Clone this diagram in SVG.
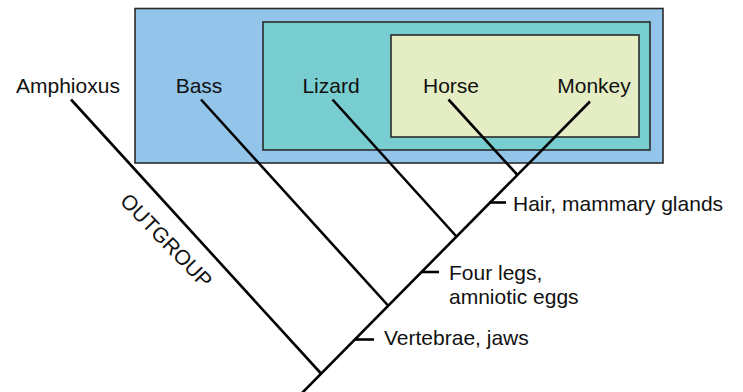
<svg xmlns="http://www.w3.org/2000/svg" width="743" height="392" viewBox="0 0 743 392">
  <style>
    .box { stroke: #2b2b2b; stroke-width: 1.6; }
    .lbl { font-family: "Liberation Sans", Arial, sans-serif; font-size: 21px; fill: #111; }
    .br { stroke: #000; stroke-width: 2.6; fill: none; stroke-linecap: butt; }
  </style>

  <!-- nested clade boxes -->
  <g id="clade-vertebrates">
    <rect class="box" x="135" y="8.5" width="528" height="154.5" fill="#93c4e9"/>
  </g>
  <g id="clade-tetrapods">
    <rect class="box" x="263" y="22" width="387" height="128" fill="#77cdcf"/>
  </g>
  <g id="clade-mammals">
    <rect class="box" x="391" y="35" width="248" height="102" fill="#e4edc4"/>
  </g>

  <!-- taxa -->
  <g id="taxon-amphioxus"><text class="lbl" x="16" y="93">Amphioxus</text></g>
  <g id="taxon-bass"><text class="lbl" x="199" y="93" text-anchor="middle">Bass</text></g>
  <g id="taxon-lizard"><text class="lbl" x="331" y="93" text-anchor="middle">Lizard</text></g>
  <g id="taxon-horse"><text class="lbl" x="451" y="93" text-anchor="middle">Horse</text></g>
  <g id="taxon-monkey"><text class="lbl" x="594" y="93" text-anchor="middle">Monkey</text></g>

  <!-- tree branches -->
  <g id="connectors">
    <line class="br" x1="590" y1="101.5" x2="302" y2="393"/>
    <line class="br" x1="71" y1="99.5" x2="321" y2="373.5"/>
    <line class="br" x1="201" y1="99.5" x2="388.5" y2="306"/>
    <line class="br" x1="332.5" y1="99.5" x2="456" y2="236"/>
    <line class="br" x1="448.5" y1="99.5" x2="517" y2="174.5"/>
    <!-- trait ticks -->
    <line class="br" x1="489" y1="202.5" x2="506" y2="202.5"/>
    <line class="br" x1="421" y1="272" x2="439" y2="272"/>
    <line class="br" x1="355" y1="339.5" x2="374" y2="339.5"/>
  </g>

  <!-- trait labels -->
  <g id="trait-hair"><text class="lbl" x="513" y="211">Hair, mammary glands</text></g>
  <g id="trait-legs">
    <text class="lbl" x="449" y="280">Four legs,</text>
    <text class="lbl" x="449" y="304">amniotic eggs</text>
  </g>
  <g id="trait-vertebrae"><text class="lbl" x="384" y="345">Vertebrae, jaws</text></g>

  <!-- outgroup label along the amphioxus branch -->
  <g id="label-outgroup">
    <text class="lbl" transform="translate(119,202) rotate(46)">OUTGROUP</text>
  </g>
</svg>
